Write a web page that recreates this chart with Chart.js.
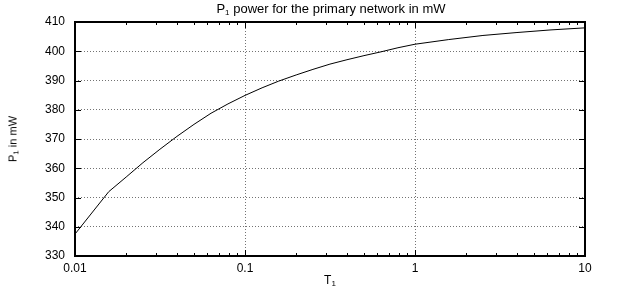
<!DOCTYPE html>
<html>
<head>
<meta charset="utf-8">
<script src="https://cdn.jsdelivr.net/npm/chart.js@4/dist/chart.umd.min.js"></script>
<style>
    body { margin: 0; background: #fff; }
    #wrap { position: relative; width: 621px; height: 289px; font-family: "Liberation Sans", Arial, sans-serif; color: #000; }
    #chart { position: absolute; left: 0; top: 0; }
    .lbl { position: absolute; font-size: 12px; white-space: nowrap; line-height: 1; }
    .lbl sub { font-size: 8px; vertical-align: -2px; }
    #title { left: 331px; top: 2px; font-size: 13px; transform: translateX(-50%); }
    #xlabel { left: 330px; top: 274px; transform: translateX(-50%); }
    #ylabel { left: 14px; top: 139px; font-size: 11px; transform: translate(-50%, -50%) rotate(-90deg); }
</style>
</head>
<body>
<div id="wrap">
    <canvas id="chart" width="621" height="289"></canvas>
    <div class="lbl" id="title">P<sub>1</sub> power for the primary network in mW</div>
    <div class="lbl" id="ylabel">P<sub>1</sub> in mW</div>
    <div class="lbl" id="xlabel">T<sub>1</sub></div>
</div>
<script>
// Data
const t1Values = [0.01, 0.0158, 0.02, 0.0251, 0.0316, 0.0398, 0.0501, 0.0631, 0.0794, 0.1, 0.126, 0.158, 0.2, 0.251, 0.316, 0.398, 0.501, 0.631, 0.794, 1, 1.58, 2.51, 3.98, 6.31, 10];
const p1Values = [337.5, 352.0, 357.0, 361.9, 366.5, 370.9, 375.0, 378.8, 382.0, 384.9, 387.5, 389.8, 391.9, 393.8, 395.6, 397.1, 398.5, 399.8, 401.2, 402.4, 404.0, 405.4, 406.4, 407.3, 408.0];

// Axis ticks
const xMajorTicks = [0.01, 0.1, 1, 10];
const xMinorTicks = [];
xMajorTicks.slice(0, -1).forEach(d => {
    for (let k = 2; k <= 9; k++) xMinorTicks.push(+(d * k).toPrecision(3));
});
const yTicks = [330, 340, 350, 360, 370, 380, 390, 400, 410];

const FONT = { family: '"Liberation Sans", Arial, sans-serif', size: 12 };

// gnuplot style frame with inward ticks on all four sides
const framePlugin = {
    id: 'frame',
    afterDraw(chart) {
        const ctx = chart.ctx;
        const a = chart.chartArea;
        const xs = chart.scales.x, ys = chart.scales.y;
        ctx.save();
        ctx.strokeStyle = '#000';
        ctx.lineWidth = 1;
        ctx.beginPath();
        yTicks.forEach(v => {
            const y = Math.round(ys.getPixelForValue(v)) + 0.5;
            ctx.moveTo(a.left, y); ctx.lineTo(a.left + 6, y);
            ctx.moveTo(a.right, y); ctx.lineTo(a.right - 6, y);
        });
        xMajorTicks.forEach(v => {
            const x = Math.round(xs.getPixelForValue(v)) + 0.5;
            ctx.moveTo(x, a.bottom); ctx.lineTo(x, a.bottom - 6);
            ctx.moveTo(x, a.top); ctx.lineTo(x, a.top + 6);
        });
        xMinorTicks.forEach(v => {
            const x = Math.round(xs.getPixelForValue(v)) + 0.5;
            ctx.moveTo(x, a.bottom); ctx.lineTo(x, a.bottom - 3);
            ctx.moveTo(x, a.top); ctx.lineTo(x, a.top + 3);
        });
        ctx.stroke();
        ctx.lineWidth = 2;
        ctx.strokeRect(a.left, a.top, a.right - a.left, a.bottom - a.top);
        ctx.restore();
    }
};

new Chart(document.getElementById('chart'), {
    type: 'line',
    data: {
        datasets: [{
            data: t1Values.map((t, i) => ({ x: t, y: p1Values[i] })),
            borderColor: '#000',
            borderWidth: 1,
            pointRadius: 0,
            tension: 0,
            fill: false
        }]
    },
    options: {
        responsive: false,
        devicePixelRatio: 1,
        animation: false,
        layout: { padding: { top: 22, right: 36, left: 0, bottom: 0 } },
        plugins: {
            legend: { display: false },
            tooltip: { enabled: false },
            title: { display: false }
        },
        scales: {
            x: {
                type: 'logarithmic',
                min: 0.01,
                max: 10,
                afterBuildTicks: scale => { scale.ticks = xMajorTicks.map(v => ({ value: v })); },
                afterFit: scale => { scale.height = 33; },
                ticks: {
                    font: FONT,
                    color: '#000',
                    padding: 5,
                    maxRotation: 0,
                    autoSkip: false,
                    callback: v => String(v)
                },
                grid: {
                    drawTicks: false,
                    color: 'rgba(0,0,0,0.55)',
                    lineWidth: 1
                },
                border: { display: false, dash: [1, 2] }
            },
            y: {
                min: 330,
                max: 410,
                afterBuildTicks: scale => { scale.ticks = yTicks.map(v => ({ value: v })); },
                afterFit: scale => { scale.width = 75; },
                ticks: {
                    font: FONT,
                    color: '#000',
                    padding: 10,
                    autoSkip: false
                },
                grid: {
                    drawTicks: false,
                    color: 'rgba(0,0,0,0.55)',
                    lineWidth: 1
                },
                border: { display: false, dash: [1, 2] }
            }
        }
    },
    plugins: [framePlugin]
});
</script>
</body>
</html>
